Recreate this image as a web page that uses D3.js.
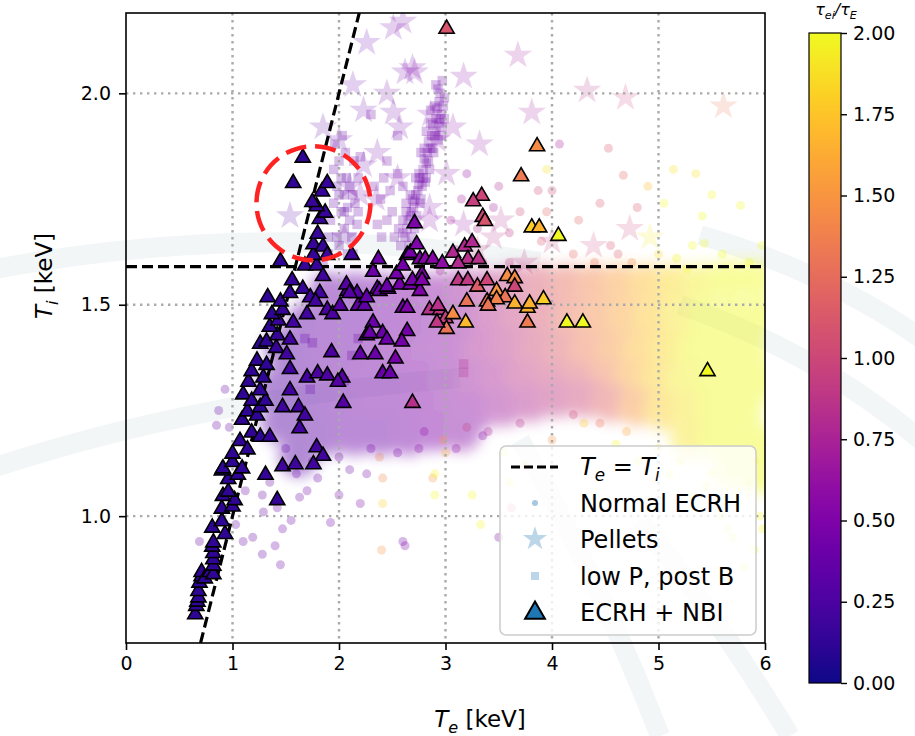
<!DOCTYPE html>
<html>
<head>
<meta charset="utf-8">
<script src="https://cdn.jsdelivr.net/npm/d3@7/dist/d3.min.js"></script>
<style>
body { margin: 0; background: #fff; }
text { font-family: "DejaVu Sans", sans-serif; fill: #000; }
</style>
</head>
<body>
<svg id="chart" width="915" height="736"></svg>
<script>

var xTicks = [0, 1, 2, 3, 4, 5, 6];
var yTicks = [1.0, 1.5, 2.0];
var cbarTicks = [0, 0.25, 0.5, 0.75, 1.0, 1.25, 1.5, 1.75, 2.0];
var legendLabels = ["Normal ECRH", "Pellets", "low P, post B", "ECRH + NBI"];
var tiLevel = 1.59;
var circleTe = 1.76, circleTi = 1.74, circleDTe = 0.535, circleDTi = 0.135;

// [Te, Ti, tau_ei/tau_E]
var ecrhCore = [
    [1.9,1.53,.4],[2.15,1.53,.4],[2.4,1.53,.45],[2.65,1.53,.5],[2.9,1.53,.55],[3.15,1.54,.65],[3.4,1.54,.8],[3.65,1.55,.95],[3.9,1.55,1.1],[4.15,1.55,1.25],[4.4,1.55,1.4],[4.65,1.55,1.55],[4.9,1.55,1.7],[5.15,1.55,1.85],[5.4,1.55,1.95],[5.65,1.56,2.0],[5.9,1.56,2.0],
    [1.7,1.46,.35],[1.95,1.46,.4],[2.2,1.46,.4],[2.45,1.46,.45],[2.7,1.46,.5],[2.95,1.46,.55],[3.2,1.47,.65],[3.45,1.47,.8],[3.7,1.47,.95],[3.95,1.47,1.1],[4.2,1.47,1.3],[4.45,1.47,1.45],[4.7,1.47,1.6],[4.95,1.47,1.75],[5.2,1.47,1.9],[5.45,1.47,2.0],[5.7,1.47,2.0],[5.95,1.47,2.0],
    [1.6,1.39,.35],[1.85,1.39,.4],[2.1,1.39,.4],[2.35,1.39,.45],[2.6,1.39,.5],[2.85,1.39,.55],[3.1,1.39,.6],[3.35,1.39,.75],[3.6,1.39,.85],[3.85,1.39,1.0],[4.1,1.39,1.15],[4.35,1.39,1.35],[4.6,1.39,1.5],[4.85,1.39,1.7],[5.1,1.39,1.85],[5.35,1.39,2.0],[5.6,1.39,2.0],[5.85,1.39,2.0],
    [1.5,1.32,.3],[1.75,1.32,.35],[2.0,1.32,.4],[2.25,1.32,.45],[2.5,1.32,.45],[2.75,1.32,.5],[3.0,1.32,.55],[3.25,1.32,.65],[3.5,1.32,.75],[3.75,1.32,.9],[4.0,1.32,1.0],[4.25,1.32,1.15],[4.5,1.32,1.35],[4.75,1.32,1.6],[5.0,1.32,1.8],[5.25,1.32,1.95],[5.5,1.32,2.0],[5.75,1.32,2.0],[5.98,1.32,2.0],
    [1.55,1.25,.3],[1.8,1.25,.35],[2.05,1.25,.4],[2.3,1.25,.45],[2.55,1.25,.45],[2.8,1.25,.5],[3.05,1.25,.55],[3.3,1.25,.6],[3.55,1.26,.7],[3.8,1.27,.8],[4.05,1.28,.9],[4.3,1.28,1.0],[4.55,1.27,1.2],[4.8,1.26,1.5],[5.05,1.25,1.8],[5.3,1.25,1.9],[5.55,1.25,2.0],[5.8,1.25,2.0],
    [1.65,1.18,.3],[1.9,1.19,.35],[2.15,1.19,.4],[2.4,1.19,.4],[2.65,1.19,.45],[2.9,1.2,.5],[3.15,1.2,.55],[5.3,1.18,1.9],[5.55,1.18,2.0],[5.8,1.18,2.0],[5.97,1.17,2.0],
    [5.7,1.11,2.0],[5.95,1.1,2.0],[1.4,1.30,.3],[1.45,1.22,.3],[1.48,1.40,.3],[1.62,1.14,.3]
];

var ecrhPts = [
    [0.93,1.30,.35],[0.87,1.25,.35],[0.85,1.215,.35],[0.97,1.21,.35],[0.69,0.94,.35],[1.10,0.94,.35],[1.19,0.95,.35],[1.28,0.91,.35],[1.45,0.885,.4],[1.40,0.93,.4],
    [1.29,1.01,.35],[1.42,1.02,.4],[1.63,1.045,.4],[1.92,0.985,.45],[2.10,1.11,.4],[2.26,1.10,.45],[2.41,1.09,1.4],[2.41,1.03,1.8],[2.40,0.92,1.5],[2.62,0.93,.5],
    [2.90,1.05,2.0],[2.88,1.09,1.5],[2.38,1.14,1.4],[1.28,1.05,.35],[1.12,1.06,.35],[1.03,0.98,.35],[1.47,0.97,.4],[1.55,0.99,.4],[1.7,1.06,.4],[1.8,1.09,.4],
    [1.6,1.1,.4],[1.35,1.08,.35],[2.0,1.05,.45],[2.2,1.03,.5],[2.60,0.94,.45],[2.90,1.10,2.0],[3.25,1.05,2.0],[3.33,0.98,2.0],[3.50,0.95,.5],[3.62,1.02,.9],
    [2.98,1.18,1.5],[3.2,1.21,.95],[3.35,1.19,.5],[2.8,1.2,.6],[3.55,1.15,2.0],[3.0,1.15,1.7],[3.6,1.08,1.9],[3.75,1.12,1.7],[4.0,1.18,1.5],[4.3,1.22,1.8],
    [4.6,1.17,2.0],[4.8,1.13,2.0],[5.1,1.1,2.0],[5.3,1.05,2.0],[5.6,1.0,2.0],[5.7,0.95,2.0],[5.85,1.08,2.0],[5.75,1.03,2.0],[5.95,1.0,2.0],[5.5,1.1,2.0],
    [5.9,0.92,2.0],[5.8,0.88,2.0],[5.98,0.97,2.0],[5.65,0.97,2.0],
    [4.53,1.87,1.1],[4.67,1.806,1.2],[5.14,1.82,1.9],[5.35,1.81,1.9],[5.77,1.735,2.0],[5.41,1.71,2.0],[4.8,1.73,1.1],[4.07,1.88,.7],[3.95,1.82,1.9],[3.87,1.77,1.0],
    [4.0,1.77,1.0],[4.55,1.64,1.1],[4.62,1.62,1.1],[5.32,1.64,2.0],[5.43,1.645,2.0],[5.17,1.61,2.0],[5.27,1.585,2.0],[5.97,1.64,2.0],[3.2,1.81,.6],[3.5,1.78,.8],
    [3.45,1.73,.7],[3.7,1.72,1.0],[3.6,1.67,.9],[3.3,1.68,.8],[3.9,1.65,1.1],[4.2,1.62,1.2],[4.4,1.6,1.3],[4.75,1.6,1.4],[5.0,1.62,1.9],[5.6,1.62,2.0],
    [5.85,1.6,2.0],[3.95,1.72,1.2],[4.25,1.7,1.2],[4.45,1.74,1.1],[3.15,1.75,.7],[3.05,1.7,.7],[3.35,1.6,.8],[3.6,1.6,.9],[5.5,1.76,2.0],[5.05,1.74,2.0],
    [4.9,1.78,1.7],[2.95,1.58,.7],[3.1,1.63,.7],
    [2.3,1.16,.45],[2.55,1.15,.5],[2.75,1.16,.55],[3.1,1.16,.6],[3.4,1.2,.75],[3.7,1.22,.85],[4.2,1.24,1.0],[4.45,1.22,1.3],[4.7,1.2,1.6],[5.0,1.16,1.9],
    [5.2,1.13,2.0],[5.45,1.07,2.0],[5.9,1.13,2.0],[1.75,1.13,.4],[2.0,1.14,.4],[1.5,1.16,.35]
];

var pelletPts = [
    [2.51,2.155,.45],[2.26,2.12,.4],[2.69,2.06,.45],[2.62,2.05,.45],[2.13,2.02,.4],[2.45,2.00,.45],[2.23,1.96,.4],[1.85,1.92,.35],[2.51,1.955,.45],[2.86,1.95,.5],
    [2.92,1.89,.5],[2.36,1.86,.45],[2.23,1.83,.4],[2.85,1.73,.5],[1.54,1.71,.3],[2.0,1.89,.4],[2.57,1.92,.45],[2.71,2.05,.5],[3.17,2.04,.55],[3.68,2.09,.7],
    [3.07,1.92,.55],[3.32,1.88,.6],[3.81,1.955,.7],[4.33,2.007,.85],[4.69,1.99,1.0],[5.61,1.97,1.3],[3.01,1.81,.55],[2.85,1.70,.55],[3.17,1.69,.6],[3.52,1.70,.8],
    [3.74,1.60,.9],[4.39,1.64,1.0],[4.73,1.68,1.0],[4.92,1.66,1.9],[3.3,1.63,.9],[2.05,1.66,.4],[2.35,1.75,.45],[2.55,1.80,.45],[2.1,1.78,.4],[3.45,1.66,.85],
    [4.0,1.65,.95],[2.6,2.17,.45],[2.2,1.76,.45]
];

var lowPPts = [
    [2.62,1.66,.4],[2.64,1.68,.4],[2.67,1.71,.4],[2.68,1.72,.4],[2.71,1.745,.4],[2.72,1.76,.4],[2.75,1.785,.4],[2.76,1.80,.4],[2.79,1.82,.4],[2.80,1.845,.4],
    [2.83,1.86,.4],[2.84,1.885,.4],[2.87,1.90,.4],[2.88,1.925,.4],[2.91,1.94,.4],[2.92,1.965,.4],[2.94,1.98,.4],[2.95,2.0,.4],[2.93,2.01,.4],[2.9,1.97,.4],
    [2.86,1.93,.4],[2.8,1.87,.4],[2.75,1.81,.4],[2.69,1.75,.4],[2.6,1.70,.4],[2.7,1.69,.4],[2.78,1.78,.4],[2.84,1.84,.4],[2.9,1.90,.4],[2.96,1.95,.4],
    [2.97,1.92,.4],[2.58,1.64,.4],[2.66,1.64,.4],[2.82,1.91,.4],[2.77,1.86,.4],[2.72,1.80,.4],[2.67,1.76,.4],[2.63,1.72,.4],[2.86,1.96,.4],[2.91,2.02,.4],
    [2.98,1.97,.4],[2.94,1.93,.4],[2.88,1.87,.4],[2.82,1.80,.4],[2.76,1.74,.4],[2.71,1.68,.4],[2.56,1.68,.4],[2.52,1.66,.4],
    [2.60,1.67,.4],[2.65,1.70,.4],[2.70,1.73,.4],[2.74,1.77,.4],[2.79,1.80,.4],[2.82,1.835,.4],[2.86,1.87,.4],[2.91,1.91,.4],[2.95,1.94,.4],[2.99,1.99,.4],
    [2.68,1.66,.4],[2.73,1.71,.4],[2.77,1.75,.4],[2.81,1.79,.4],[2.85,1.82,.4],[2.89,1.86,.4],[2.93,1.89,.4],[2.96,1.90,.4],[2.99,1.94,.4],[2.97,2.03,.4],
    [1.96,1.88,.35],[2.0,1.84,.35],[2.02,1.80,.35],[1.98,1.78,.35],[2.05,1.76,.35],[2.08,1.73,.35],[2.02,1.72,.35],[2.1,1.70,.35],[2.05,1.68,.35],[2.12,1.66,.35],
    [1.98,1.66,.35],[2.15,1.74,.35],[2.1,1.78,.35],[2.08,1.62,.35],[1.9,1.62,.35],[1.85,1.60,.35],[2.0,1.64,.35],[1.92,1.70,.35],[1.95,1.74,.35],
    [2.18,1.80,.35],[2.14,1.84,.35],[2.06,1.86,.35],[2.03,1.90,.35],[2.17,1.69,.35],[2.13,1.62,.35],[1.95,1.82,.35],[1.9,1.66,.35],[1.82,1.63,.35],[1.78,1.61,.35],
    [2.07,1.80,.35],[2.0,1.76,.35],[2.13,1.76,.35],[2.05,1.72,.35],[2.18,1.72,.35],
    [2.45,1.84,.4],[2.55,1.81,.4],[2.39,1.75,.4],[2.33,1.78,.4],[2.5,1.72,.4],[2.63,1.74,.4],[2.4,1.66,.4],[2.3,1.95,.4],[2.55,1.9,.4],[2.2,1.85,.4],
    [2.42,1.80,.4],[2.48,1.77,.4],[2.6,1.78,.4],[2.45,1.70,.4],[2.36,1.69,.4],
    [1.75,1.41,.35],[1.68,1.42,.35],[2.05,1.32,.4],[2.18,1.42,.4],[1.73,1.30,.35],[3.17,1.36,.8],[3.17,1.34,.8],[2.12,1.38,.4]
];

var nbiPts = [
    [0.65,0.77,.12],[0.66,0.79,.12],[0.67,0.80,.12],[0.68,0.81,.12],[0.68,0.825,.12],[0.69,0.845,.12],[0.71,0.86,.12],[0.71,0.87,.12],[0.74,0.855,.12],[0.79,0.87,.12],
    [0.82,0.865,.12],[0.82,0.885,.12],[0.82,0.90,.12],[0.82,0.915,.12],[0.81,0.93,.12],[0.82,0.94,.12],[0.81,0.975,.12],[0.93,0.96,.12],[0.90,0.99,.12],[0.90,1.02,.12],
    [1.00,1.025,.12],[1.02,1.04,.12],[0.91,1.05,.12],[0.96,1.06,.12],[0.96,1.09,.12],[0.90,1.11,.12],[0.91,1.115,.12],[1.00,1.13,.12],[1.05,1.10,.12],[1.09,1.115,.12],
    [1.00,1.15,.12],[1.07,1.18,.12],[1.14,1.16,.12],[1.18,1.20,.12],[1.26,1.19,.12],[1.09,1.23,.12],[1.14,1.25,.12],[1.23,1.24,.12],[1.10,1.29,.12],[1.18,1.275,.12],
    [1.26,1.26,.12],[1.31,1.275,.12],[1.15,1.32,.12],[1.26,1.30,.12],[1.18,1.345,.12],[1.29,1.33,.12],[1.23,1.37,.12],[1.32,1.36,.12],[1.26,1.41,.12],[1.32,1.415,.12],
    [1.42,1.43,.15],[1.35,1.45,.12],[1.43,1.465,.15],[1.37,1.48,.12],[1.41,1.40,.15],[1.47,1.49,.15],[1.33,1.52,.12],[1.45,1.51,.15],[1.54,1.53,.15],[1.56,1.56,.15],
    [1.66,1.54,.15],[1.45,1.605,.12],[1.68,1.595,.15],[1.79,1.595,.15],[1.85,1.57,.18],[1.76,1.62,.15],[1.76,1.645,.15],[1.85,1.64,.15],[1.89,1.62,.18],[1.80,1.67,.15],
    [1.82,1.705,.15],[1.87,1.72,.15],[1.79,1.735,.15],[1.75,1.745,.15],[1.84,1.77,.15],[1.89,1.79,.15],[1.57,1.79,.12],[1.66,1.85,.12],[1.82,1.53,.2],[1.73,1.52,.18],
    [1.78,1.51,.2],
    [1.51,1.385,.2],[1.54,1.42,.2],[1.57,1.46,.2],[1.54,1.35,.2],[1.54,1.30,.2],[1.47,1.26,.18],[1.62,1.26,.2],[1.68,1.24,.2],[1.63,1.21,.2],[1.35,1.19,.15],
    [1.79,1.165,.2],[1.85,1.145,.2],[1.76,1.125,.2],[1.47,1.12,.18],[1.59,1.125,.18],[1.31,1.10,.15],[1.42,1.04,.15],[1.70,1.33,.2],[1.70,1.48,.2],[1.89,1.49,.25],
    [1.94,1.48,.25],[1.80,1.34,.25],[1.89,1.335,.25],[1.93,1.39,.25],
    [2.03,1.33,.3],[1.99,1.32,.3],[2.04,1.27,.3],[2.20,1.385,.35],[2.18,1.50,.35],[2.26,1.43,.4],[2.12,1.62,.2],[2.08,1.535,.3],[2.17,1.53,.3],[2.24,1.50,.35],
    [2.07,1.55,.3],[2.10,1.53,.3],[2.01,1.50,.3],[2.26,1.52,.35],[2.36,1.54,.35],[2.38,1.535,.4],[2.46,1.54,.4],[2.37,1.61,.4],[2.32,1.58,.4],[2.45,1.545,.4],
    [2.57,1.55,.45],[2.60,1.495,.45],[2.54,1.575,.45],[2.64,1.62,.45],[2.67,1.625,.45],[2.73,1.645,.5],[2.71,1.695,.5],[2.76,1.61,.5],[2.81,1.61,.55],[2.88,1.61,.55],
    [2.97,1.60,.6],[2.78,1.575,.5],[2.67,1.55,.45],[2.76,1.535,.5],[2.69,1.56,.45],[2.78,1.56,.5],[2.32,1.46,.4],[2.41,1.435,.4],[2.29,1.435,.4],[2.45,1.42,.4],
    [2.64,1.44,.45],[2.59,1.415,.45],[2.34,1.385,.4],[2.53,1.375,.45],[2.41,1.34,.4],[2.48,1.34,.4],[2.69,1.27,.85],[2.60,1.595,.45],[2.64,1.495,.5],
    [3.01,2.155,1.1],[2.85,1.49,.85],[2.95,1.49,.9],[3.00,1.47,.95],[3.07,1.48,1.45],[3.01,1.445,1.3],[3.19,1.46,1.7],[2.92,1.46,.9],[2.93,1.50,.85],[3.07,1.625,.8],
    [3.18,1.64,.8],[3.25,1.65,.8],[3.21,1.61,.85],[3.31,1.61,.85],[3.12,1.60,.8],[3.12,1.56,.9],[3.21,1.56,.9],[3.30,1.545,1.15],[3.39,1.56,1.0],[3.39,1.51,1.25],
    [3.48,1.535,1.5],[3.56,1.52,1.3],[3.58,1.57,1.45],[3.65,1.565,1.45],[3.65,1.545,1.0],[3.65,1.505,1.65],[3.77,1.495,1.65],[3.79,1.505,1.65],[3.92,1.515,1.8],[3.77,1.46,1.35],
    [3.34,1.76,1.0],[3.26,1.747,.95],[3.35,1.71,1.0],[3.37,1.70,1.1],[3.71,1.806,1.35],[3.86,1.877,1.45],[3.81,1.685,1.8],[3.88,1.685,1.65],[4.06,1.665,2.0],[4.14,1.46,2.0],
    [4.29,1.46,2.0],[5.46,1.345,2.0],[3.20,1.51,1.3],[3.48,1.515,1.4],[3.40,1.50,1.3]
];


(function() {

    var svg = d3.select("#chart");
    var pL = 126, pR = 765, pT = 13, pB = 643;

    var x = d3.scaleLinear().domain([0, 6]).range([pL, pR]);
    var y = d3.scaleLinear().domain([0.70, 2.19]).range([pB, pT]);
    var color = d3.scaleSequential(d3.interpolatePlasma).domain([0, 2]);

    var defs = svg.append("defs");
    defs.append("clipPath").attr("id", "clip").append("rect")
        .attr("x", pL).attr("y", pT).attr("width", pR - pL).attr("height", pB - pT);
    defs.append("filter").attr("id", "blur").attr("x", "-10%").attr("y", "-10%").attr("width", "120%").attr("height", "120%")
        .append("feGaussianBlur").attr("stdDeviation", 7);

    // faint background watermark
    var wm = svg.append("g").attr("fill", "none").attr("stroke", "#f2f6f7").attr("stroke-width", 20);
    wm.append("path").attr("d", "M -20 272 Q 250 218 540 262");
    wm.append("path").attr("d", "M -20 472 Q 200 398 460 378");
    wm.append("path").attr("d", "M 700 235 Q 830 272 935 348");
    wm.append("path").attr("d", "M 680 305 Q 820 352 935 452");
    wm.append("path").attr("d", "M 520 440 Q 600 580 660 736");
    wm.append("path").attr("d", "M 640 520 Q 720 620 790 736");

    var plot = svg.append("g").attr("clip-path", "url(#clip)");

    // normal ECRH cloud
    var core = plot.append("g").attr("filter", "url(#blur)").attr("opacity", 0.45);
    core.selectAll("circle").data(ecrhCore).enter().append("circle")
        .attr("cx", function(d) { return x(d[0]); })
        .attr("cy", function(d) { return y(d[1]); })
        .attr("r", 20)
        .attr("fill", function(d) { return color(d[2]); });

    plot.append("g").selectAll("circle").data(ecrhPts).enter().append("circle")
        .attr("cx", function(d) { return x(d[0]); })
        .attr("cy", function(d) { return y(d[1]); })
        .attr("r", 4.5)
        .attr("fill", function(d) { return color(d[2]); })
        .attr("fill-opacity", 0.28);

    // low P, post B squares
    var square = d3.symbol().type(d3.symbolSquare).size(90);
    plot.append("g").selectAll("path").data(lowPPts).enter().append("path")
        .attr("d", square)
        .attr("transform", function(d) { return "translate(" + x(d[0]) + "," + y(d[1]) + ")"; })
        .attr("fill", function(d) { return color(d[2]); })
        .attr("fill-opacity", 0.25);

    // pellets
    var star = d3.symbol().type(d3.symbolStar).size(250);
    plot.append("g").selectAll("path").data(pelletPts).enter().append("path")
        .attr("d", star)
        .attr("transform", function(d) { return "translate(" + x(d[0]) + "," + y(d[1]) + ")"; })
        .attr("fill", function(d) { return color(d[2]); })
        .attr("fill-opacity", 0.19);

    // grid
    var grid = svg.append("g").attr("stroke", "#aaaaaa").attr("stroke-width", 2.4).attr("stroke-dasharray", "2.4,4.6");
    grid.selectAll(".gx").data(xTicks.slice(1, -1)).enter().append("line")
        .attr("x1", function(d) { return x(d); }).attr("x2", function(d) { return x(d); })
        .attr("y1", pT).attr("y2", pB);
    grid.selectAll(".gy").data(yTicks).enter().append("line")
        .attr("x1", pL).attr("x2", pR)
        .attr("y1", function(d) { return y(d); }).attr("y2", function(d) { return y(d); });

    // Te = Ti and Ti level
    var dash = svg.append("g").attr("clip-path", "url(#clip)").attr("stroke", "#000").attr("stroke-width", 3.2).attr("stroke-dasharray", "11,5").attr("fill", "none");
    dash.append("line").attr("x1", x(0.70)).attr("y1", y(0.70)).attr("x2", x(2.19)).attr("y2", y(2.19));
    dash.append("line").attr("x1", pL).attr("y1", y(tiLevel)).attr("x2", pR).attr("y2", y(tiLevel));

    // ECRH + NBI
    var tri = d3.symbol().type(d3.symbolTriangle).size(100);
    svg.append("g").attr("clip-path", "url(#clip)").selectAll("path").data(nbiPts).enter().append("path")
        .attr("d", tri)
        .attr("transform", function(d) { return "translate(" + x(d[0]) + "," + (y(d[1]) + 1) + ")"; })
        .attr("fill", function(d) { return color(d[2]); })
        .attr("stroke", "#000")
        .attr("stroke-width", 1.6);

    // red circle
    svg.append("ellipse")
        .attr("cx", x(circleTe)).attr("cy", y(circleTi))
        .attr("rx", x(circleTe + circleDTe) - x(circleTe))
        .attr("ry", y(circleTi) - y(circleTi + circleDTi))
        .attr("fill", "none").attr("stroke", "#ff2222").attr("stroke-width", 4.5).attr("stroke-dasharray", "21,9");

    // axes
    var xAxis = svg.append("g").attr("transform", "translate(0," + pB + ")")
        .call(d3.axisBottom(x).tickValues(xTicks).tickFormat(d3.format("d")).tickSize(7).tickPadding(7));
    var yAxis = svg.append("g").attr("transform", "translate(" + pL + ",0)")
        .call(d3.axisLeft(y).tickValues(yTicks).tickFormat(d3.format(".1f")).tickSize(7).tickPadding(8));
    [xAxis, yAxis].forEach(function(a) {
        a.select(".domain").remove();
        a.selectAll("line").attr("stroke", "#000").attr("stroke-width", 1.6);
        a.selectAll("text").attr("font-size", 19).attr("font-family", "DejaVu Sans").attr("fill", "#000");
    });
    svg.append("rect").attr("x", pL).attr("y", pT).attr("width", pR - pL).attr("height", pB - pT)
        .attr("fill", "none").attr("stroke", "#000").attr("stroke-width", 1.6);

    function mathText(t, parts, fs) {
        var shifted = false;
        parts.forEach(function(p) {
            var s = t.append("tspan").text(p[0]);
            if (p[1]) s.attr("font-style", "italic");
            if (p[2]) {
                s.attr("font-size", fs * 0.7).attr("dy", shifted ? 0 : fs * 0.25);
                shifted = true;
            } else if (shifted) {
                s.attr("dy", -fs * 0.25);
                shifted = false;
            }
        });
    }

    var xl = svg.append("text").attr("x", 480).attr("y", 727).attr("text-anchor", "middle").attr("font-size", 23);
    mathText(xl, [["T", 1, 0], ["e", 1, 1], [" [keV]", 0, 0]], 23);
    var yl = svg.append("text").attr("transform", "translate(52,276) rotate(-90)").attr("text-anchor", "middle").attr("font-size", 23);
    mathText(yl, [["T", 1, 0], ["i", 1, 1], [" [keV]", 0, 0]], 23);

    // colorbar
    var cbX = 809, cbW = 32;
    var cy = d3.scaleLinear().domain([0, 2]).range([683, 33]);
    var grad = defs.append("linearGradient").attr("id", "cbar").attr("x1", 0).attr("y1", 1).attr("x2", 0).attr("y2", 0);
    d3.range(0, 1.0001, 0.05).forEach(function(t) {
        grad.append("stop").attr("offset", t).attr("stop-color", d3.interpolatePlasma(t));
    });
    svg.append("rect").attr("x", cbX).attr("y", cy(2)).attr("width", cbW).attr("height", cy(0) - cy(2))
        .attr("fill", "url(#cbar)").attr("stroke", "#000").attr("stroke-width", 1.2);
    var cAxis = svg.append("g").attr("transform", "translate(" + (cbX + cbW) + ",0)")
        .call(d3.axisRight(cy).tickValues(cbarTicks).tickFormat(d3.format(".2f")).tickSize(6).tickPadding(6));
    cAxis.select(".domain").remove();
    cAxis.selectAll("line").attr("stroke", "#000").attr("stroke-width", 1.4);
    cAxis.selectAll("text").attr("font-size", 19).attr("font-family", "DejaVu Sans").attr("fill", "#000");
    var ct = svg.append("text").attr("x", 836).attr("y", 15).attr("text-anchor", "middle").attr("font-size", 16);
    mathText(ct, [["\u03c4", 1, 0], ["ei", 1, 1], ["/\u03c4", 1, 0], ["E", 1, 1]], 16);

    // legend
    var lg = svg.append("g");
    lg.append("rect").attr("x", 500).attr("y", 446).attr("width", 256).attr("height", 189).attr("rx", 6)
        .attr("fill", "#fff").attr("fill-opacity", 0.8).attr("stroke", "#cccccc").attr("stroke-width", 1.5);
    lg.append("line").attr("x1", 511).attr("x2", 558).attr("y1", 467).attr("y2", 467)
        .attr("stroke", "#000").attr("stroke-width", 3.2).attr("stroke-dasharray", "9,4");
    var l0 = lg.append("text").attr("x", 580).attr("y", 475).attr("font-size", 24);
    mathText(l0, [["T", 1, 0], ["e", 1, 1], [" = ", 0, 0], ["T", 1, 0], ["i", 1, 1]], 24);

    var rowY = [503, 539, 576, 612];
    lg.append("circle").attr("cx", 535).attr("cy", rowY[0]).attr("r", 3).attr("fill", "#1f77b4").attr("fill-opacity", 0.4);
    lg.append("path").attr("d", d3.symbol().type(d3.symbolStar).size(180)).attr("transform", "translate(535," + rowY[1] + ")")
        .attr("fill", "#1f77b4").attr("fill-opacity", 0.3);
    lg.append("path").attr("d", d3.symbol().type(d3.symbolSquare).size(64)).attr("transform", "translate(535," + rowY[2] + ")")
        .attr("fill", "#1f77b4").attr("fill-opacity", 0.3);
    lg.append("path").attr("d", d3.symbol().type(d3.symbolTriangle).size(170)).attr("transform", "translate(535," + (rowY[3] + 1) + ")")
        .attr("fill", "#1f77b4").attr("stroke", "#000").attr("stroke-width", 2);
    lg.selectAll(".lt").data(legendLabels).enter().append("text")
        .attr("x", 580).attr("y", function(d, i) { return rowY[i] + 9; })
        .attr("font-size", 24).text(function(d) { return d; });

})();

</script>
</body>
</html>
